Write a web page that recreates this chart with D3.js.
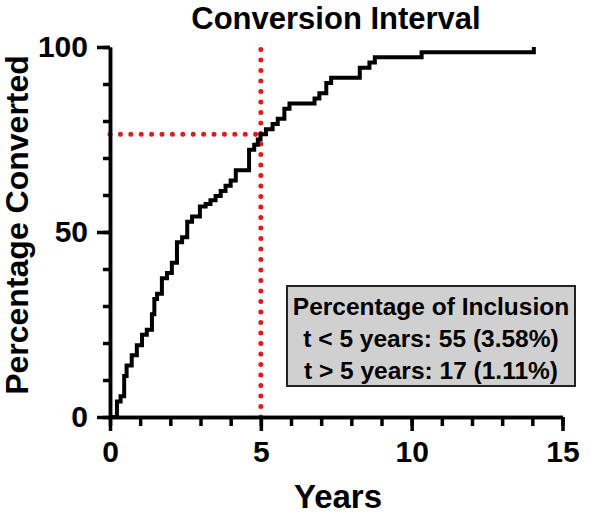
<!DOCTYPE html>
<html>
<head>
<meta charset="utf-8">
<script src="https://cdn.jsdelivr.net/npm/d3@7"></script>
<style>
  body { margin: 0; background: #fff; }
  text { font-family: Arial, "Liberation Sans", sans-serif; font-weight: bold; }
</style>
</head>
<body>
<svg id="chart"></svg>
<script>
const width = 591;
const height = 515;

// step curve: time of each conversion and cumulative %
const years = [0, 0.23, 0.35, 0.47, 0.55, 0.72, 0.89, 1.06, 1.22, 1.39, 1.47, 1.56, 1.72, 1.89,
  2.05, 2.22, 2.39, 2.56, 2.72, 2.98, 3.17, 3.33, 3.5, 3.67, 3.83, 4.0, 4.17, 4.61, 4.78, 4.9,
  4.99, 5.17, 5.39, 5.56, 5.78, 5.95, 6.78, 6.94, 7.17, 7.33, 8.28, 8.6, 8.78, 10.33, 14.05];
const percent = [0, 4.2, 5.6, 11.1, 13.9, 16.7, 19.4, 22.2, 23.6, 27.8, 31.9, 33.3, 37.5, 38.9,
  41.7, 47.2, 48.6, 52.8, 54.2, 56.9, 57.6, 58.6, 59.7, 61.1, 62.5, 63.9, 66.7, 72.2, 73.6, 75.0,
  76.4, 77.8, 79.2, 80.6, 83.3, 84.7, 86.1, 87.5, 90.3, 91.7, 94.4, 95.8, 97.2, 98.6, 100];

const xMajor = [0, 5, 10, 15];
const xMinor = d3.range(0, 16);
const yMajor = [0, 50, 100];
const yMinor = d3.range(0, 101, 10);

const cutoffYear = 5;
const cutoffPercent = 76.4;

const boxLines = ["Percentage of Inclusion", "t < 5 years: 55 (3.58%)", "t > 5 years: 17 (1.11%)"];

const svg = d3.select("#chart")
  .attr("width", width)
  .attr("height", height);

const x = d3.scaleLinear().domain([0, 15]).range([110, 562.5]);
const y = d3.scaleLinear().domain([0, 100]).range([417, 47]);

// red dotted reference lines
const red = "#e3191c";
svg.append("line")
  .attr("x1", x(0)).attr("x2", x(cutoffYear))
  .attr("y1", y(cutoffPercent)).attr("y2", y(cutoffPercent))
  .attr("stroke", red).attr("stroke-width", 5)
  .attr("stroke-linecap", "round").attr("stroke-dasharray", "0 10.4");
svg.append("line")
  .attr("x1", x(cutoffYear)).attr("x2", x(cutoffYear))
  .attr("y1", y(0)).attr("y2", y(100))
  .attr("stroke", red).attr("stroke-width", 5)
  .attr("stroke-linecap", "round").attr("stroke-dasharray", "0 10.5");

// axes
function styleAxis(g) {
  g.selectAll("path, line").attr("stroke", "#000").attr("stroke-width", 3.5);
  g.selectAll("text").attr("fill", "#000").style("font-size", "30px");
}

svg.append("g")
  .attr("transform", `translate(0,${y(0)})`)
  .call(d3.axisBottom(x).tickValues(xMinor).tickSize(9).tickSizeOuter(0).tickFormat(""))
  .call(styleAxis);
svg.append("g")
  .attr("transform", `translate(0,${y(0)})`)
  .call(d3.axisBottom(x).tickValues(xMajor).tickSize(14).tickSizeOuter(0).tickPadding(10))
  .call(styleAxis);

svg.append("g")
  .attr("transform", `translate(${x(0)},0)`)
  .call(d3.axisLeft(y).tickValues(yMinor).tickSize(7).tickSizeOuter(0).tickFormat(""))
  .call(styleAxis);
svg.append("g")
  .attr("transform", `translate(${x(0)},0)`)
  .call(d3.axisLeft(y).tickValues(yMajor).tickSize(13).tickSizeOuter(0).tickPadding(9))
  .call(styleAxis);

// step curve
const line = d3.line()
  .x((d, i) => x(years[i]))
  .y(d => y(d))
  .curve(d3.curveStepAfter);

svg.append("path")
  .datum(percent)
  .attr("d", line)
  .attr("fill", "none")
  .attr("stroke", "#000")
  .attr("stroke-width", 4)
  .attr("stroke-linejoin", "miter");

// legend box
const box = svg.append("g");
box.append("rect")
  .attr("x", 287).attr("y", 286)
  .attr("width", 288).attr("height", 100)
  .attr("fill", "#d0d0d0")
  .attr("stroke", "#222")
  .attr("stroke-width", 2);
box.selectAll("text")
  .data(boxLines)
  .enter().append("text")
  .attr("x", 431)
  .attr("y", (d, i) => 315 + i * 32)
  .attr("text-anchor", "middle")
  .style("font-size", "24.5px")
  .text(d => d);

// titles
svg.append("text")
  .attr("x", 336).attr("y", 29)
  .attr("text-anchor", "middle")
  .style("font-size", "31px")
  .text("Conversion Interval");

svg.append("text")
  .attr("x", 338).attr("y", 508)
  .attr("text-anchor", "middle")
  .style("font-size", "33px")
  .text("Years");

svg.append("text")
  .attr("transform", "translate(28,225) rotate(-90)")
  .attr("text-anchor", "middle")
  .style("font-size", "32px")
  .text("Percentage Converted");
</script>
</body>
</html>
